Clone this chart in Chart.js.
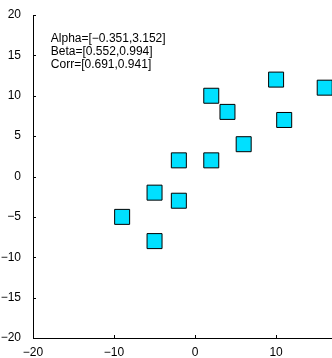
<!DOCTYPE html>
<html>
<head>
<meta charset="utf-8">
<script src="https://cdn.jsdelivr.net/npm/chart.js@4.4.1/dist/chart.umd.min.js"></script>
<style>
  html, body { margin: 0; padding: 0; background: #fff; }
  #wrap { width: 332px; height: 358px; }
</style>
</head>
<body>
<div id="wrap"><canvas id="myChart" width="332" height="358"></canvas></div>
<script>
const xVals = [10, 16, 2, 4, 11, 6, -2, 2, -5, -2, -9, -5];
const yVals = [12, 11, 10, 8, 7, 4, 2, 2, -2, -3, -5, -8];
const xTicks = [-20, -10, 0, 10];
const yTicks = [-20, -15, -10, -5, 0, 5, 10, 15, 20];
const noteLines = ['Alpha=[\u22120.351,3.152]', 'Beta=[0.552,0.994]', 'Corr=[0.691,0.941]'];

const fmt = v => (v < 0 ? '\u2212' + Math.abs(v) : String(v));
const font = { family: "'Liberation Sans', Arial, Helvetica, sans-serif", size: 12 };

// matlab style ticks pointing into the plot, plus the text box
const extras = {
  id: 'extras',
  afterDraw(chart) {
    const { ctx, chartArea: a, scales: { x, y } } = chart;
    ctx.save();
    ctx.strokeStyle = '#000';
    ctx.lineWidth = 1;
    ctx.beginPath();
    yTicks.forEach(v => {
      const py = Math.round(y.getPixelForValue(v)) + 0.5;
      ctx.moveTo(a.left, py);
      ctx.lineTo(a.left + 3, py);
    });
    xTicks.forEach(v => {
      const px = Math.round(x.getPixelForValue(v)) + 0.5;
      ctx.moveTo(px, a.bottom);
      ctx.lineTo(px, a.bottom - 3);
    });
    ctx.stroke();

    ctx.fillStyle = '#000';
    ctx.font = font.size + 'px ' + font.family;
    ctx.textBaseline = 'alphabetic';
    const tx = x.getPixelForValue(-17.8);
    const ty = y.getPixelForValue(16.6);
    noteLines.forEach((t, i) => ctx.fillText(t, tx, ty + i * 12.7));
    ctx.restore();
  }
};

new Chart(document.getElementById('myChart'), {
  type: 'scatter',
  data: {
    datasets: [{
      data: xVals.map((v, i) => ({ x: v, y: yVals[i] })),
      pointStyle: 'rect',
      pointRadius: 10.6,
      pointHoverRadius: 10.6,
      backgroundColor: '#00e0ff',
      borderColor: '#000',
      borderWidth: 1,
      clip: false
    }]
  },
  options: {
    responsive: false,
    animation: false,
    layout: { autoPadding: false, padding: { top: 15, right: 0, left: 0, bottom: 0 } },
    plugins: { legend: { display: false }, tooltip: { enabled: false } },
    scales: {
      x: {
        type: 'linear',
        min: -20,
        max: 16.9,
        afterBuildTicks: s => { s.ticks = xTicks.map(v => ({ value: v })); },
        afterFit: s => { s.height = 20; },
        ticks: { color: '#000', font, padding: -1, maxRotation: 0, callback: fmt },
        grid: { display: false },
        border: { display: true, color: '#000', width: 1 }
      },
      y: {
        type: 'linear',
        min: -20,
        max: 20,
        afterBuildTicks: s => { s.ticks = yTicks.map(v => ({ value: v })); },
        afterFit: s => { s.width = 33; },
        ticks: { color: '#000', font, padding: 4, callback: fmt },
        grid: { display: false },
        border: { display: true, color: '#000', width: 1 }
      }
    }
  },
  plugins: [extras]
});
</script>
</body>
</html>
